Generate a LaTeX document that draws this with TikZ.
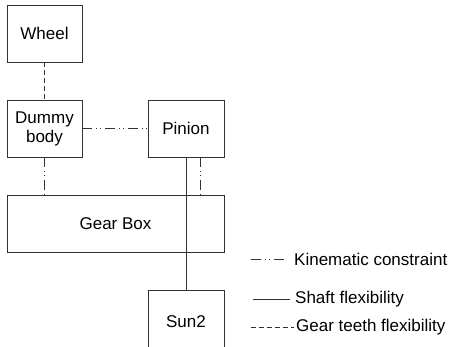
\documentclass[tikz,border=0pt]{standalone}
\usepackage{fontspec}
\setsansfont{Liberation Sans}

\begin{document}
\begin{tikzpicture}[
    x=1pt,y=1pt,
    font=\sffamily\fontsize{17}{19}\selectfont,
    part/.style={rectangle,draw=black!80,line width=0.9pt,
        minimum width=75pt,minimum height=57pt,inner sep=2pt,align=center},
    line/.style={draw=black!80,line width=0.9pt},
    kinematic/.style={line,dash pattern=on 10pt off 4pt on 1pt off 3pt on 1pt off 4pt},
    shaft/.style={line},
    teeth/.style={line,dash pattern=on 5pt off 3pt},
    legendtext/.style={anchor=west,inner sep=0pt}
]
\clip (0,0) rectangle (452,-347);
\node[part] (wheel) at (44.5,-33.5) {Wheel};
\node[part] (dummy) at (44.5,-128.5) {Dummy\\body};
\node[part,minimum width=76pt] (pinion) at (186,-128.5) {Pinion};
\node[part,minimum width=217pt] (gearbox) at (115.5,-223.5) {Gear Box};
\node[part,minimum width=76pt,minimum height=64pt] (sun) at (186,-322) {Sun2};
\draw[teeth] (wheel.south) -- (dummy.north);
\draw[kinematic] (dummy.east) -- (pinion.west);
\draw[kinematic] (dummy.south) -- (dummy.south |- gearbox.north);
\draw[shaft] (pinion.south) -- (sun.north);
\draw[kinematic] ([xshift=14pt]pinion.south) -- ([xshift=14pt]pinion.south |- gearbox.north);
% legend
\node[legendtext] (kintext) at (294,-259) {Kinematic constraint};
\node[legendtext] (shafttext) at (295,-299) {Shaft flexibility};
\node[legendtext] (teethtext) at (296,-327) {Gear teeth flexibility};
\coordinate (kin0) at (251,-259);
\coordinate (kin1) at (285,-259);
\coordinate (shaft0) at (253,-299);
\coordinate (shaft1) at (290,-299);
\coordinate (teeth0) at (251,-327);
\coordinate (teeth1) at (294,-327);
\draw[kinematic] (kin0) -- (kin1);
\draw[shaft] (shaft0) -- (shaft1);
\draw[teeth] (teeth0) -- (teeth1);
\end{tikzpicture}
\end{document}
